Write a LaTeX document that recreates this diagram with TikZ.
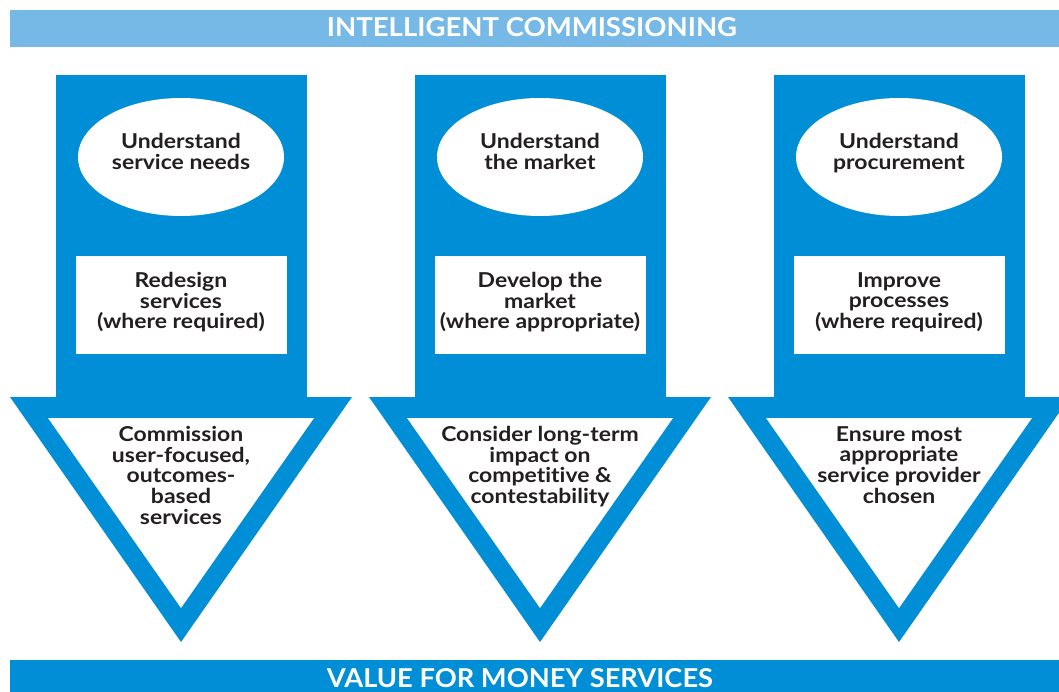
\documentclass[tikz,border=0pt]{standalone}
\usepackage{fontspec}
\setmainfont{Lato}[Ligatures=NoCommon]
\newfontfamily\widefont{Lato}[FakeStretch=1.12, Ligatures=NoCommon]
\usetikzlibrary{shapes.geometric}
\definecolor{dblue}{HTML}{008ED6}
\definecolor{lblue}{HTML}{77B9E6}
\definecolor{ink}{HTML}{231F20}
\tikzset{
  txt/.style={anchor=north, inner sep=0pt, align=center, text=ink,
    font=\widefont\bfseries\fontsize{20.5}{20.7}\selectfont},
  ellbox/.style={ellipse, fill=white, minimum width=206pt, minimum height=118pt, inner sep=0pt},
  whitebox/.style={fill=white, minimum width=211pt, minimum height=98pt, inner sep=0pt},
  banner/.style={minimum width=1049pt, inner sep=0pt, anchor=north west}
}
\newcommand{\icColumn}[5]{%
  \fill[dblue] (#1-125.5,75) rectangle (#1+125.5,402);
  \fill[dblue] (#1-171,397) -- (#1+171,397) -- (#1,642) -- cycle;
  \fill[white] (#1-133,418) -- (#1+133,418) -- (#1,608) -- cycle;
  \node[ellbox] (ell#2) at (#1,157) {};
  \node[whitebox] (box#2) at (#1,305) {};
  \node[txt] (ellt#2) at (#1,133) {#3};
  \node[txt] (boxt#2) at (#1,272) {#4};
  \node[txt] (trit#2) at (#1,426) {#5};
}
\begin{document}
\begin{tikzpicture}[x=1pt,y=-1pt]
\clip (0,0) rectangle (1059,692);
\fill[white] (0,0) rectangle (1059,692);
\node[banner, fill=lblue, minimum height=37pt] (topbar) at (10,10) {};
\node[inner sep=0pt, text=white] (toptext) at (532,27.5)
  {\resizebox{410pt}{19pt}{\bfseries INTELLIGENT COMMISSIONING}};
\icColumn{181}{1}{Understand\\service needs}{Redesign\\services\\(where required)}{Commission\\user-focused,\\outcomes-\\based\\services}
\icColumn{540}{2}{Understand\\the market}{Develop the\\market\\(where appropriate)}{Consider long-term\\impact on\\competitive \&\\contestability}
\icColumn{899}{3}{Understand\\procurement}{Improve\\processes\\(where required)}{Ensure most\\appropriate\\service provider\\chosen}
\node[banner, fill=dblue, minimum height=32pt] (botbar) at (10,660) {};
\node[inner sep=0pt, text=white] (bottext) at (520,678.5)
  {\resizebox{386pt}{19pt}{\bfseries VALUE FOR MONEY SERVICES}};
\end{tikzpicture}
\end{document}
